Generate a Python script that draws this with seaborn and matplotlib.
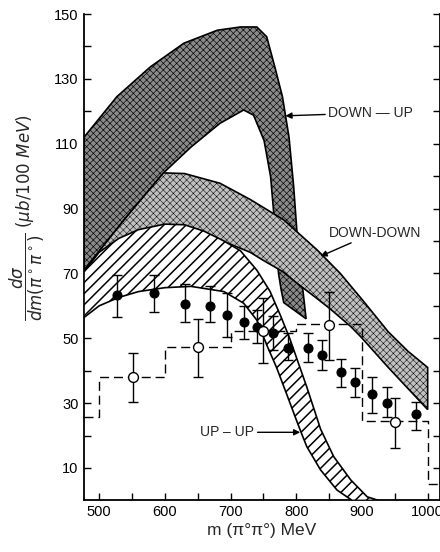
import matplotlib
matplotlib.use("Agg")
import matplotlib.pyplot as plt
import seaborn as sns
import pandas as pd

# --- bands, MeV vs ub/100 MeV ---
down_up_outer_m = [477, 527, 578, 629, 680, 715, 740, 755, 767, 779, 789, 796, 801, 806, 810, 815]
down_up_outer_v = [112, 124.5, 133.7, 141, 145, 146, 146, 143, 134, 124.5, 112, 97, 83, 72, 65, 56]
down_up_inner_m = [477, 540, 598, 640, 684, 720, 735, 751, 761, 766, 770, 773, 777, 781]
down_up_inner_v = [71, 87, 101, 109, 116.3, 120.4, 118.8, 111, 99.8, 88, 78, 70, 65, 61]

down_down_upper_m = [477, 540, 598, 630, 684, 730, 781, 832, 867, 900, 940, 970, 1000]
down_down_upper_v = [71, 87, 101, 100.8, 97.8, 92.8, 86.5, 77.2, 70, 62, 52, 46, 41]
down_down_lower_m = [477, 550, 600, 650, 700, 730, 750, 780, 801, 830, 852, 883, 898, 940, 970, 1000]
down_down_lower_v = [68, 78, 82, 82.5, 79, 76.5, 74, 70.5, 67, 62.5, 59, 53.6, 50.5, 41, 34.5, 28]

up_up_upper_m = [477, 500, 530, 560, 600, 630, 660, 690, 715, 740, 760, 776, 790, 803, 816, 837, 857, 883, 908, 925]
up_up_upper_v = [70.5, 76.5, 80.8, 83.5, 85.2, 85, 83, 80, 77, 71, 64.5, 57, 50, 42.5, 35, 22, 13.5, 6.3, 1.1, 0]
up_up_lower_m = [477, 500, 530, 560, 600, 640, 690, 720, 740, 756, 770, 785, 797, 806, 816, 837, 862, 885]
up_up_lower_v = [56.4, 60, 62.6, 64.4, 65.6, 66, 64.4, 60.8, 55.6, 47.5, 41, 33, 26.5, 21.7, 16.6, 9.4, 3.2, 0]

# --- data points ---
full_m = [527, 583, 631, 669, 694, 721, 740, 764, 787, 818, 839, 868, 889, 915, 938, 982]
full_v = [63.3, 63.9, 60.5, 60.0, 57.2, 55.1, 53.6, 51.7, 47.1, 46.9, 44.8, 39.5, 36.4, 32.7, 30.1, 26.5]
full_lo = [56.7, 58.2, 54.9, 54.9, 50.5, 49.8, 48.5, 46.5, 43.3, 42.6, 40.2, 35.1, 32.0, 27.0, 25.7, 21.7]
full_hi = [69.5, 69.6, 66.6, 66.2, 63.9, 60.0, 58.7, 57.0, 51.6, 51.5, 49.5, 43.6, 40.8, 38.0, 35.0, 30.4]

open_m = [551, 651, 750, 850, 951]
open_v = [38.2, 47.2, 52.3, 54.1, 24.1]
open_lo = [30.4, 38.1, 42.4, 43.3, 16.1]
open_hi = [45.4, 55.9, 62.4, 64.3, 31.7]

hist_edges = [477, 500, 600, 700, 800, 900, 1000, 1018]
hist_vals = [25.6, 38.2, 47.2, 52.3, 54.3, 24.5, 5.0]

sns.set_style("ticks")
plt.rcParams["font.family"] = ["Liberation Sans", "DejaVu Sans"]
plt.rcParams["mathtext.fontset"] = "dejavusans"

fig = plt.figure(figsize=(4.4, 5.52), dpi=100)
ax = fig.add_axes([84 / 440, 1 - 500.4 / 552, 355.5 / 440, 486.4 / 552])


def band(ax, xs, ys, face, hatch, hlw, z):
    with plt.rc_context({"hatch.linewidth": hlw}):
        p = ax.fill(xs, ys, facecolor=face, edgecolor="black", hatch=hatch, linewidth=1.2, zorder=z)[0]
    return p


band(ax, down_up_outer_m + down_up_inner_m[::-1], down_up_outer_v + down_up_inner_v[::-1],
     "#8a8a8a", "xxxxx", 0.45, 1)
band(ax, down_down_upper_m + down_down_lower_m[::-1], down_down_upper_v + down_down_lower_v[::-1],
     "#c0c0c0", "xxxxx", 0.35, 2)
band(ax, up_up_upper_m + up_up_lower_m[::-1], up_up_upper_v + up_up_lower_v[::-1],
     "white", "///", 1.1, 3)

# dashed histogram
hist = pd.DataFrame({"m": hist_edges, "v": hist_vals + [hist_vals[-1]]})
sns.lineplot(data=hist, x="m", y="v", drawstyle="steps-post", color="black",
             linestyle=(0, (6.5, 3.5)), linewidth=1.0, estimator=None, ax=ax, zorder=4)

# error bars
ax.errorbar(full_m, full_v,
            yerr=[[v - l for v, l in zip(full_v, full_lo)], [h - v for v, h in zip(full_v, full_hi)]],
            fmt="none", ecolor="black", elinewidth=1.0, capsize=3.5, capthick=1.0, zorder=5)
ax.errorbar(open_m, open_v,
            yerr=[[v - l for v, l in zip(open_v, open_lo)], [h - v for v, h in zip(open_v, open_hi)]],
            fmt="none", ecolor="black", elinewidth=1.0, capsize=3.5, capthick=1.0, zorder=5)
sns.scatterplot(x=full_m, y=full_v, color="black", s=42, edgecolor="black", linewidth=0.8, ax=ax, zorder=6)
sns.scatterplot(x=open_m, y=open_v, color="white", s=50, edgecolor="black", linewidth=1.0, ax=ax, zorder=6)

# labels with arrows
arrow = dict(arrowstyle="-|>", color="black", lw=1.0, mutation_scale=9, shrinkA=0, shrinkB=0)
ax.annotate("DOWN — UP", xy=(783.5, 118.6), xytext=(849, 119.5), va="center", ha="left",
            fontsize=10, arrowprops=arrow, zorder=7)
ax.annotate("DOWN-DOWN", xy=(837, 75.3), xytext=(849, 82.6), va="center", ha="left",
            fontsize=10, arrowprops=arrow, zorder=7)
ax.annotate("UP – UP", xy=(806, 21), xytext=(654, 21), va="center", ha="left",
            fontsize=10, arrowprops=arrow, zorder=7)

ax.set_xlim(477, 1018)
ax.set_ylim(0, 150)
ax.set_xticks(range(500, 1001, 50))
ax.set_xticklabels([str(t) if t % 100 == 0 else "" for t in range(500, 1001, 50)])
ax.set_yticks(range(10, 151, 10))
ax.set_yticklabels([str(t) if t % 20 == 10 else "" for t in range(10, 151, 10)])
ax.tick_params(direction="in", length=5, width=1.0, labelsize=10.5, colors="black",
               right=True, top=False, pad=4)
ax.tick_params(axis="x", pad=3)
for s in ["left", "bottom", "right"]:
    ax.spines[s].set_linewidth(1.3)
    ax.spines[s].set_color("black")
ax.spines["top"].set_visible(False)
ax.set_xlabel("m (π°π°) MeV", fontsize=12.5, labelpad=3)
ax.set_ylabel("")

fig.text(27 / 440, 1 - 218 / 552,
         r"$\dfrac{d\sigma}{dm(\pi^\circ\pi^\circ)}\ (\mu b/100\ MeV)$",
         rotation=90, ha="center", va="center", fontsize=12)

fig.savefig("out.png", dpi=100)
